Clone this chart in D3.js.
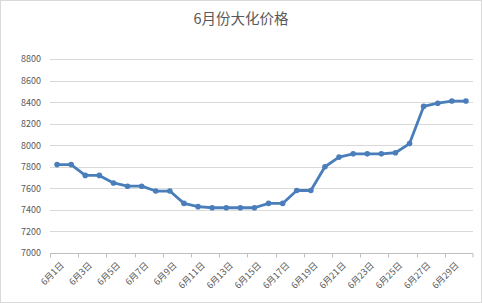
<!DOCTYPE html>
<html>
<head>
<meta charset="utf-8">
<script src="https://cdn.jsdelivr.net/npm/d3@7"></script>
<style>
  body { margin: 0; background: #fff; }
  #chart { width: 482px; height: 303px; }
</style>
</head>
<body>
<div id="chart"></div>
<script>
// chart data
const title = "6月份大化价格";
const days = d3.range(1, 31).map(d => "6月" + d + "日");
const prices = [7820, 7820, 7720, 7720, 7650, 7620, 7620, 7575, 7575, 7460,
                7430, 7420, 7420, 7420, 7420, 7460, 7460, 7580, 7580, 7800,
                7890, 7920, 7920, 7920, 7930, 8015, 8360, 8390, 8410, 8410];
const yTicks = [7000, 7200, 7400, 7600, 7800, 8000, 8200, 8400, 8600, 8800];

const W = 482, H = 303;
const margin = { top: 59, right: 9, bottom: 50, left: 50 };
const width = W - margin.left - margin.right;
const height = H - margin.top - margin.bottom;
const font = "'Noto Sans CJK SC', 'Noto Sans', sans-serif";
const blue = "#4a7ebb";

const svg = d3.select("#chart").append("svg")
  .attr("width", W)
  .attr("height", H);

// outer chart border
svg.append("rect")
  .attr("x", 0.5).attr("y", 0.5)
  .attr("width", W - 1).attr("height", H - 1)
  .attr("fill", "#fff")
  .attr("stroke", "#d9d9d9");

svg.append("text")
  .attr("x", W / 2)
  .attr("y", 24)
  .attr("text-anchor", "middle")
  .style("font-family", font)
  .style("font-size", "14.5px")
  .style("fill", "#595959")
  .text(title);

const g = svg.append("g")
  .attr("transform", "translate(" + margin.left + "," + margin.top + ")");

const x = d3.scaleBand()
  .domain(days)
  .range([0, width]);

const y = d3.scaleLinear()
  .domain([7000, 8800])
  .range([height, 0]);

// horizontal gridlines
g.selectAll("line.grid")
  .data(yTicks.slice(1))
  .enter().append("line")
  .attr("class", "grid")
  .attr("x1", 0)
  .attr("x2", width)
  .attr("y1", d => Math.round(y(d)) + 0.5)
  .attr("y2", d => Math.round(y(d)) + 0.5)
  .style("stroke", "#d9d9d9")
  .style("stroke-width", 1);

// y axis labels (no line)
const yAxis = d3.axisLeft(y)
  .tickValues(yTicks)
  .tickFormat(d3.format("d"))
  .tickSize(0)
  .tickPadding(9);

g.append("g")
  .attr("class", "y axis")
  .call(yAxis)
  .call(s => s.select(".domain").remove())
  .selectAll("text")
  .style("font-family", font)
  .style("font-size", "9px")
  .style("fill", "#595959");

// x axis line with tick marks every two categories
const xg = g.append("g")
  .attr("class", "x axis")
  .attr("transform", "translate(0," + (Math.round(height) + 0.5) + ")");

xg.append("line")
  .attr("x1", 0).attr("x2", width)
  .style("stroke", "#bfbfbf");

xg.selectAll("line.tick")
  .data(days.filter((d, i) => i % 2 === 0).concat(["end"]))
  .enter().append("line")
  .attr("class", "tick")
  .attr("x1", d => d === "end" ? width : Math.round(x(d)) + 0.5)
  .attr("x2", d => d === "end" ? width : Math.round(x(d)) + 0.5)
  .attr("y1", 0).attr("y2", 4)
  .style("stroke", "#bfbfbf");

xg.selectAll("text")
  .data(days.filter((d, i) => i % 2 === 0))
  .enter().append("text")
  .attr("transform", d => "translate(" + (x(d) + x.bandwidth() / 2 + 3) + ",8) rotate(-45)")
  .attr("text-anchor", "end")
  .attr("dy", "0.7em")
  .style("font-family", font)
  .style("font-size", "9px")
  .style("fill", "#595959")
  .text(d => d);

// price line
const line = d3.line()
  .x((d, i) => x(days[i]) + x.bandwidth() / 2)
  .y(d => y(d));

g.append("path")
  .datum(prices)
  .attr("d", line)
  .attr("fill", "none")
  .attr("stroke", blue)
  .attr("stroke-width", 2.8)
  .attr("stroke-linejoin", "round")
  .attr("stroke-linecap", "round");

g.selectAll("circle.pt")
  .data(prices)
  .enter().append("circle")
  .attr("class", "pt")
  .attr("cx", (d, i) => x(days[i]) + x.bandwidth() / 2)
  .attr("cy", d => y(d))
  .attr("r", 2.8)
  .attr("fill", blue);
</script>
</body>
</html>
